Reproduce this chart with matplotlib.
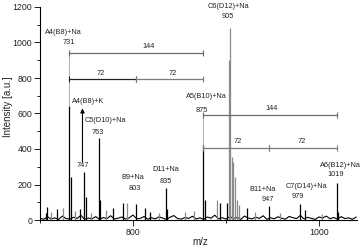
import matplotlib
matplotlib.use('Agg')
import matplotlib.pyplot as plt
from matplotlib.ticker import MultipleLocator

plt.rcParams['font.family'] = ['Liberation Sans', 'DejaVu Sans']

# ---- data ----
black_mz = [706, 707, 718, 731, 733, 742.5, 747, 749, 763, 765, 778.6, 789.4,
            803.3, 812.6, 818.7, 835.5, 837, 875.5, 877, 893.8, 901, 922.4,
            946.4, 979.6, 985, 1019, 1021]
black_int = [39, 73, 60, 640, 243, 62, 270, 130, 462, 112, 67, 95,
             90, 67, 47, 178, 60, 420, 112, 95, 95, 67,
             78, 92, 56, 208, 45]
gray_mz = [712, 725, 738, 755, 771, 793.7, 828, 856, 866, 890.2, 903.5, 904.5,
           906.5, 908, 910, 912, 914, 931, 958, 1003]
gray_int = [45, 70, 50, 40, 55, 95, 40, 45, 50, 112, 900, 1079,
            356, 328, 243, 112, 84, 45, 40, 35]
noise_mz = list(range(700, 1041, 4))
noise_int = [10, 4, 18, 6, 12, 3, 22, 8, 5, 15,
             9, 26, 4, 11, 7, 19, 3, 14, 8, 24,
             6, 10, 17, 5, 12, 28, 7, 9, 20, 4,
             13, 6, 18, 11, 3, 16, 25, 8, 5, 14,
             9, 21, 6, 12, 4, 17, 10, 27, 7, 13,
             5, 19, 8, 15, 3, 22, 11, 6, 16, 9,
             24, 4, 12, 7, 18, 10, 5, 20, 13, 8,
             26, 6, 15, 9, 3, 17, 11, 22, 7, 14,
             5, 19, 8, 12, 4, 16]

# annotation labels: (text, m/z position, intensity position)
labels = [
    ("A4(B8)+Na", 725.4, 1058), ("731", 730.7, 1000),
    ("C6(D12)+Na", 902.7, 1200), ("905", 902, 1148),
    ("A4(B8)+K", 752, 670),
    ("C5(D10)+Na", 770.4, 559), ("763", 761.8, 492),
    ("747", 745.7, 306),
    ("A5(B10)+Na", 878.8, 697), ("875", 874.5, 618),
    ("B9+Na", 799.4, 240), ("803", 801.5, 178),
    ("D11+Na", 835.5, 285), ("835", 835.3, 215),
    ("B11+Na", 938.9, 172), ("947", 945, 116),
    ("C7(D14)+Na", 987, 187), ("979", 977.8, 131),
    ("A6(B12)+Na", 1023.3, 309), ("1019", 1018, 257),
]
bracket_labels = [("144", 816.6, 978), ("72", 765, 826), ("72", 842.3, 826),
                  ("144", 949.6, 629), ("72", 913, 445), ("72", 981.4, 445)]

fig = plt.figure(figsize=(3.6, 2.49), dpi=100)
ax = fig.add_axes([40/360, 29/249, 317/360, 213/249])

ax.plot(noise_mz, noise_int, color='black', lw=0.8)
ax.vlines(gray_mz, 0, gray_int, color='#8a8a8a', lw=0.9)
ax.vlines(black_mz, 0, black_int, color='black', lw=0.9)

ax.set_xlim(700, 1041)
ax.set_ylim(0, 1200)

# drop lines to brackets
ax.vlines([731], 640, 940, color='#b0b0b0', lw=0.7)
ax.vlines([875.5], 420, 590, color='#b0b0b0', lw=0.7)

def bracket(x0, x1, y, color):
    ax.plot([x0, x1], [y, y], color=color, lw=0.9)
    ax.plot([x0, x1], [y, y], ls='none', marker='|', ms=4, mew=0.8, color=color)

bracket(731, 875.5, 940, '#6a6a6a')
bracket(731, 803, 792, '#222222')
bracket(803, 875.5, 792, '#7a7a7a')
bracket(875.5, 1019, 590, '#6a6a6a')
bracket(875.5, 946.4, 403, '#7a7a7a')
bracket(946.4, 1019, 403, '#7a7a7a')

ax.annotate("", xy=(745.7, 629), xytext=(745.7, 328),
            arrowprops=dict(arrowstyle='-|>', color='black', lw=0.8,
                            mutation_scale=6, shrinkA=0, shrinkB=0))

for t, x, y in labels:
    ax.text(x, y, t, fontsize=5.3, ha='center', va='center', color='#222222',
            clip_on=False)
for t, x, y in bracket_labels:
    ax.text(x, y, t, fontsize=5.3, ha='center', va='center', color='#222222')

for s in ['top', 'right']:
    ax.spines[s].set_visible(False)
for s in ['left', 'bottom']:
    ax.spines[s].set_linewidth(0.8)

ax.set_xticks([800, 1000])
ax.xaxis.set_minor_locator(MultipleLocator(100))
ax.set_yticks(range(0, 1201, 200))
ax.yaxis.set_minor_locator(MultipleLocator(100))
ax.tick_params(axis='both', which='major', labelsize=6.3, length=4, width=0.7,
               pad=1.5, colors='#222222')
ax.tick_params(axis='both', which='minor', length=2, width=0.6)

ax.set_xlabel("m/z", fontsize=7, color='#222222')
ax.set_ylabel("Intensity [a.u.]", fontsize=7, color='#222222')
ax.xaxis.set_label_coords(0.506, -0.082)
ax.yaxis.set_label_coords(-0.085, 0.53)

fig.savefig('out.png', dpi=100)
